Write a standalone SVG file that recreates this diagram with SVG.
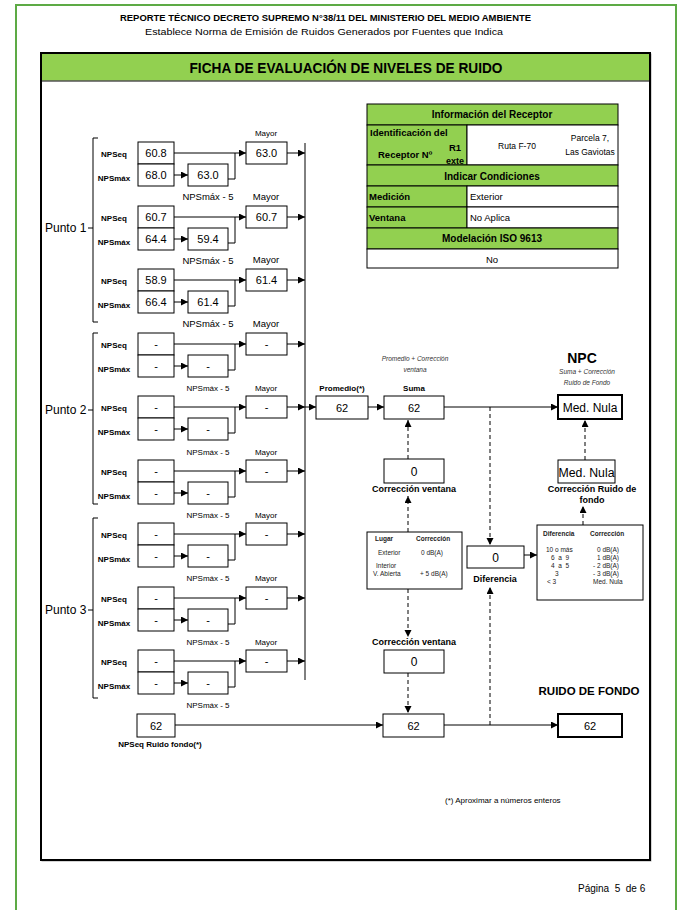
<svg xmlns="http://www.w3.org/2000/svg" width="681" height="910" viewBox="0 0 681 910">
<style>
text{font-family:"Liberation Sans",Arial,sans-serif;fill:#000}
.b{fill:#fff;stroke:#000;stroke-width:1}
.bt{fill:#fff;stroke:#000;stroke-width:2}
.g{fill:#92D050;stroke:#000;stroke-width:1}
.w{fill:#fff;stroke:#000;stroke-width:1}
.ln{fill:none;stroke:#000;stroke-width:1}
.ds{fill:none;stroke:#000;stroke-width:1;stroke-dasharray:4 3}
.v{font-size:11px;text-anchor:middle}
.vl{font-size:12px;text-anchor:middle}
.lb{font-size:8px;font-weight:bold;text-anchor:middle}
.sm{font-size:8px;text-anchor:middle}
.bg{font-size:9.5px;text-anchor:middle}
.pt{font-size:12px}
.th{font-size:10px;font-weight:bold;text-anchor:middle}
.tb{font-size:9.5px;font-weight:bold}
.tr{font-size:9.5px}
.it{font-size:6.5px;font-style:italic;text-anchor:middle;fill:#333}
.cl{font-size:9px;font-weight:bold;text-anchor:middle}
.t7{font-size:6.5px;fill:#222}
.t7b{font-size:6.5px;font-weight:bold;fill:#222}
</style>
<defs>
<marker id="a" markerUnits="userSpaceOnUse" markerWidth="8" markerHeight="8" refX="7" refY="3.5" orient="auto">
<path d="M0,0 L7,3.5 L0,7 z" fill="#000"/>
</marker>
</defs>
<rect width="681" height="910" fill="#fff"/>
<rect x="16" y="5" width="660" height="930" fill="none" stroke="#5DAA45" stroke-width="2"/>
<text x="325.5" y="21" font-size="9.5" font-weight="bold" text-anchor="middle" textLength="411" lengthAdjust="spacingAndGlyphs">REPORTE TÉCNICO DECRETO SUPREMO N°38/11 DEL MINISTERIO DEL MEDIO AMBIENTE</text>
<text x="324" y="35" font-size="9.5" text-anchor="middle" textLength="358" lengthAdjust="spacingAndGlyphs">Establece Norma de Emisión de Ruidos Generados por Fuentes que Indica</text>
<rect x="42" y="54" width="609" height="807" fill="none" stroke="#aaa" stroke-width="1"/>
<rect x="41" y="53" width="609" height="807" fill="#fff" stroke="#000" stroke-width="2"/>
<rect x="42" y="54" width="607" height="27" fill="#92D050"/>
<line x1="42" y1="81" x2="649" y2="81" stroke="#555" stroke-width="1.5"/>
<text x="346" y="73" font-size="15" font-weight="bold" text-anchor="middle" textLength="313" lengthAdjust="spacingAndGlyphs">FICHA DE EVALUACIÓN DE NIVELES DE RUIDO</text>

<g id="receptor">
<rect class="g" x="367" y="104" width="251" height="21"/>
<text class="th" x="492" y="118">Información del Receptor</text>
<rect class="g" x="367" y="125" width="100" height="40"/>
<rect class="w" x="467" y="125" width="151" height="40"/>
<text class="tb" x="370" y="136">Identificación del</text>
<text class="tb" x="378" y="158">Receptor Nº</text>
<text class="tb" x="455" y="151" text-anchor="middle">R1</text>
<text x="455" y="164" font-size="9" font-weight="bold" text-anchor="middle">exte</text>
<text x="517" y="149" font-size="8.5" text-anchor="middle">Ruta F-70</text>
<text x="590" y="141" font-size="8.5" text-anchor="middle">Parcela 7,</text>
<text x="590" y="155" font-size="8.5" text-anchor="middle">Las Gaviotas</text>
<rect class="g" x="367" y="165" width="251" height="21"/>
<text class="th" x="492" y="180">Indicar Condiciones</text>
<rect class="g" x="367" y="186" width="100" height="21"/>
<rect class="w" x="467" y="186" width="151" height="21"/>
<text class="tb" x="369" y="200">Medición</text>
<text class="tr" x="470" y="200">Exterior</text>
<rect class="g" x="367" y="207" width="100" height="21"/>
<rect class="w" x="467" y="207" width="151" height="21"/>
<text class="tb" x="369" y="221">Ventana</text>
<text class="tr" x="470" y="221">No Aplica</text>
<rect class="g" x="367" y="228" width="251" height="21"/>
<text class="th" x="492" y="242">Modelación ISO 9613</text>
<rect class="w" x="367" y="249" width="251" height="19"/>
<text x="492" y="263" font-size="9.5" text-anchor="middle">No</text>
</g>

<g id="punto1">
<text class="pt" x="45" y="232">Punto 1</text>
<path class="ln" d="M98,138 H93 V322 H98 M88,228 H93"/>
</g>
<g id="punto2">
<text class="pt" x="45" y="414">Punto 2</text>
<path class="ln" d="M98,333 H93 V504 H98 M88,410 H93"/>
</g>
<g id="punto3">
<text class="pt" x="45" y="614">Punto 3</text>
<path class="ln" d="M98,518 H93 V698 H98 M88,610 H93"/>
</g>

<g id="g1">
<text class="lb" x="114" y="157">NPSeq</text><text class="lb" x="114" y="181">NPSmáx</text>
<rect class="b" x="138" y="142" width="36" height="22"/><text class="v" x="156" y="157">60.8</text>
<rect class="b" x="138" y="164" width="36" height="22"/><text class="v" x="156" y="179">68.0</text>
<rect class="b" x="188" y="164" width="40" height="22"/><text class="v" x="208" y="179">63.0</text>
<rect class="b" x="246" y="142" width="41" height="22"/><text class="v" x="266.5" y="157">63.0</text>
<text class="sm" x="266" y="136">Mayor</text>
<text class="bg" x="208" y="200">NPSmáx - 5</text>
</g>
<g id="g2">
<text class="lb" x="114" y="221">NPSeq</text><text class="lb" x="114" y="245">NPSmáx</text>
<rect class="b" x="138" y="206" width="36" height="22"/><text class="v" x="156" y="221">60.7</text>
<rect class="b" x="138" y="228" width="36" height="22"/><text class="v" x="156" y="243">64.4</text>
<rect class="b" x="188" y="228" width="40" height="22"/><text class="v" x="208" y="243">59.4</text>
<rect class="b" x="246" y="206" width="41" height="22"/><text class="v" x="266.5" y="221">60.7</text>
<text class="bg" x="266" y="200">Mayor</text>
<text class="bg" x="208" y="264">NPSmáx - 5</text>
</g>
<g id="g3">
<text class="lb" x="114" y="284">NPSeq</text><text class="lb" x="114" y="308">NPSmáx</text>
<rect class="b" x="138" y="269" width="36" height="22"/><text class="v" x="156" y="284">58.9</text>
<rect class="b" x="138" y="291" width="36" height="22"/><text class="v" x="156" y="306">66.4</text>
<rect class="b" x="188" y="291" width="40" height="22"/><text class="v" x="208" y="306">61.4</text>
<rect class="b" x="246" y="269" width="41" height="22"/><text class="v" x="266.5" y="284">61.4</text>
<text class="bg" x="266" y="263">Mayor</text>
<text class="bg" x="208" y="327">NPSmáx - 5</text>
</g>
<g id="g4">
<text class="lb" x="114" y="348">NPSeq</text><text class="lb" x="114" y="372">NPSmáx</text>
<rect class="b" x="138" y="333" width="36" height="22"/><text class="v" x="156" y="348">-</text>
<rect class="b" x="138" y="355" width="36" height="22"/><text class="v" x="156" y="370">-</text>
<rect class="b" x="188" y="355" width="40" height="22"/><text class="v" x="208" y="370">-</text>
<rect class="b" x="246" y="333" width="41" height="22"/><text class="v" x="266.5" y="348">-</text>
<text class="bg" x="266" y="327">Mayor</text>
<text class="sm" x="208" y="391">NPSmáx - 5</text>
</g>
<g id="g5">
<text class="lb" x="114" y="411">NPSeq</text><text class="lb" x="114" y="435">NPSmáx</text>
<rect class="b" x="138" y="396" width="36" height="22"/><text class="v" x="156" y="411">-</text>
<rect class="b" x="138" y="418" width="36" height="22"/><text class="v" x="156" y="433">-</text>
<rect class="b" x="188" y="418" width="40" height="22"/><text class="v" x="208" y="433">-</text>
<rect class="b" x="246" y="396" width="41" height="22"/><text class="v" x="266.5" y="411">-</text>
<text class="sm" x="266" y="391">Mayor</text>
<text class="sm" x="208" y="455">NPSmáx - 5</text>
</g>
<g id="g6">
<text class="lb" x="114" y="475">NPSeq</text><text class="lb" x="114" y="499">NPSmáx</text>
<rect class="b" x="138" y="460" width="36" height="22"/><text class="v" x="156" y="475">-</text>
<rect class="b" x="138" y="482" width="36" height="22"/><text class="v" x="156" y="497">-</text>
<rect class="b" x="188" y="482" width="40" height="22"/><text class="v" x="208" y="497">-</text>
<rect class="b" x="246" y="460" width="41" height="22"/><text class="v" x="266.5" y="475">-</text>
<text class="sm" x="266" y="455">Mayor</text>
<text class="sm" x="208" y="518">NPSmáx - 5</text>
</g>
<g id="g7">
<text class="lb" x="114" y="538">NPSeq</text><text class="lb" x="114" y="562">NPSmáx</text>
<rect class="b" x="138" y="523" width="36" height="22"/><text class="v" x="156" y="538">-</text>
<rect class="b" x="138" y="545" width="36" height="22"/><text class="v" x="156" y="560">-</text>
<rect class="b" x="188" y="545" width="40" height="22"/><text class="v" x="208" y="560">-</text>
<rect class="b" x="246" y="523" width="41" height="22"/><text class="v" x="266.5" y="538">-</text>
<text class="sm" x="266" y="518">Mayor</text>
<text class="sm" x="208" y="581">NPSmáx - 5</text>
</g>
<g id="g8">
<text class="lb" x="114" y="602">NPSeq</text><text class="lb" x="114" y="626">NPSmáx</text>
<rect class="b" x="138" y="587" width="36" height="22"/><text class="v" x="156" y="602">-</text>
<rect class="b" x="138" y="609" width="36" height="22"/><text class="v" x="156" y="624">-</text>
<rect class="b" x="188" y="609" width="40" height="22"/><text class="v" x="208" y="624">-</text>
<rect class="b" x="246" y="587" width="41" height="22"/><text class="v" x="266.5" y="602">-</text>
<text class="sm" x="266" y="581">Mayor</text>
<text class="sm" x="208" y="645">NPSmáx - 5</text>
</g>
<g id="g9">
<text class="lb" x="114" y="665">NPSeq</text><text class="lb" x="114" y="689">NPSmáx</text>
<rect class="b" x="138" y="650" width="36" height="22"/><text class="v" x="156" y="665">-</text>
<rect class="b" x="138" y="672" width="36" height="22"/><text class="v" x="156" y="687">-</text>
<rect class="b" x="188" y="672" width="40" height="22"/><text class="v" x="208" y="687">-</text>
<rect class="b" x="246" y="650" width="41" height="22"/><text class="v" x="266.5" y="665">-</text>
<text class="sm" x="266" y="645">Mayor</text>
<text class="sm" x="208" y="708">NPSmáx - 5</text>
</g>

<g id="promedio">
<rect class="b" x="316" y="396" width="52" height="23"/><text class="v" x="342" y="412">62</text>
<text class="lb" x="342" y="391" font-size="8.5">Promedio(*)</text>
</g>
<g id="suma">
<rect class="b" x="384" y="396" width="60" height="23"/><text class="v" x="414" y="412">62</text>
<text class="lb" x="414" y="391">Suma</text>
<text class="it" x="415" y="361">Promedio + Corrección</text>
<text class="it" x="415" y="372">ventana</text>
</g>
<g id="npc">
<rect class="bt" x="558" y="395" width="64" height="24"/><text class="vl" x="590" y="412">Med. Nula</text>
<text x="582" y="363" font-size="14" font-weight="bold" text-anchor="middle">NPC</text>
<text class="it" x="587" y="374">Suma + Corrección</text>
<text class="it" x="587" y="385">Ruido de Fondo</text>
</g>
<g id="corr-ventana-1">
<rect class="b" x="384" y="459" width="60" height="24"/><text class="vl" x="414" y="476">0</text>
<text class="cl" x="414" y="492">Corrección ventana</text>
</g>
<g id="corr-ruido">
<rect class="b" x="558" y="460" width="57" height="23"/><text class="vl" x="586.5" y="477" textLength="56" lengthAdjust="spacingAndGlyphs">Med. Nula</text>
<text class="cl" x="592" y="492">Corrección Ruido de</text>
<text class="cl" x="592" y="503">fondo</text>
</g>
<g id="tabla-lugar">
<rect class="b" x="367" y="532" width="95" height="57"/>
<text class="t7b" x="375" y="541">Lugar</text>
<text class="t7b" x="416" y="541">Corrección</text>
<text class="t7" x="378" y="555">Exterior</text>
<text class="t7" x="421" y="555">0 dB(A)</text>
<text class="t7" x="376" y="568">Interior</text>
<text class="t7" x="373" y="576">V. Abierta</text>
<text class="t7" x="420" y="576">+ 5 dB(A)</text>
</g>
<g id="diferencia">
<rect class="b" x="467" y="546" width="57" height="22"/><text class="vl" x="495.5" y="562">0</text>
<text class="cl" x="495" y="582">Diferencia</text>
</g>
<g id="tabla-diferencia">
<rect class="b" x="537" y="525" width="106" height="75"/>
<text class="t7b" x="543" y="536">Diferencia</text>
<text class="t7b" x="590" y="536">Corrección</text>
<text class="t7" x="546" y="552">10 o más</text>
<text class="t7" x="551" y="560">6 &#160;a &#160;9</text>
<text class="t7" x="551" y="568">4 &#160;a &#160;5</text>
<text class="t7" x="555" y="576">3</text>
<text class="t7" x="547" y="584">&lt; 3</text>
<text class="t7" x="597" y="552">0 dB(A)</text>
<text class="t7" x="597" y="560">1 dB(A)</text>
<text class="t7" x="593" y="568">- 2 dB(A)</text>
<text class="t7" x="593" y="576">- 3 dB(A)</text>
<text class="t7" x="593" y="584">Med. Nula</text>
</g>
<g id="corr-ventana-2">
<text class="cl" x="414" y="645">Corrección ventana</text>
<rect class="b" x="384" y="650" width="60" height="23"/><text class="vl" x="414" y="666">0</text>
</g>
<g id="npseq-ruido">
<rect class="b" x="137" y="714" width="38" height="23"/><text class="v" x="156" y="730">62</text>
<text class="lb" x="160" y="747">NPSeq Ruido fondo(*)</text>
</g>
<g id="suma-ruido">
<rect class="b" x="383" y="714" width="61" height="23"/><text class="v" x="413.5" y="730">62</text>
</g>
<g id="ruido-fondo">
<text x="589" y="695" font-size="11.5" font-weight="bold" text-anchor="middle">RUIDO DE FONDO</text>
<rect class="bt" x="558" y="714" width="64" height="23"/><text class="v" x="590" y="730">62</text>
</g>

<g id="connectors">
<path class="ln" d="M305,143 V680"/>
<path class="ln" d="M174,153 H246" marker-end="url(#a)"/><path class="ln" d="M174,175 H188" marker-end="url(#a)"/><path class="ln" d="M228,179 H235 V153"/><path class="ln" d="M287,153 H305" marker-end="url(#a)"/>
<path class="ln" d="M174,217 H246" marker-end="url(#a)"/><path class="ln" d="M174,239 H188" marker-end="url(#a)"/><path class="ln" d="M228,243 H235 V217"/><path class="ln" d="M287,217 H305" marker-end="url(#a)"/>
<path class="ln" d="M174,280 H246" marker-end="url(#a)"/><path class="ln" d="M174,302 H188" marker-end="url(#a)"/><path class="ln" d="M228,306 H235 V280"/><path class="ln" d="M287,280 H305" marker-end="url(#a)"/>
<path class="ln" d="M174,344 H246" marker-end="url(#a)"/><path class="ln" d="M174,366 H188" marker-end="url(#a)"/><path class="ln" d="M228,370 H235 V344"/><path class="ln" d="M287,344 H305" marker-end="url(#a)"/>
<path class="ln" d="M174,407 H246" marker-end="url(#a)"/><path class="ln" d="M174,429 H188" marker-end="url(#a)"/><path class="ln" d="M228,433 H235 V407"/><path class="ln" d="M287,407 H305" marker-end="url(#a)"/>
<path class="ln" d="M174,471 H246" marker-end="url(#a)"/><path class="ln" d="M174,493 H188" marker-end="url(#a)"/><path class="ln" d="M228,497 H235 V471"/><path class="ln" d="M287,471 H305" marker-end="url(#a)"/>
<path class="ln" d="M174,534 H246" marker-end="url(#a)"/><path class="ln" d="M174,556 H188" marker-end="url(#a)"/><path class="ln" d="M228,560 H235 V534"/><path class="ln" d="M287,534 H305" marker-end="url(#a)"/>
<path class="ln" d="M174,598 H246" marker-end="url(#a)"/><path class="ln" d="M174,620 H188" marker-end="url(#a)"/><path class="ln" d="M228,624 H235 V598"/><path class="ln" d="M287,598 H305" marker-end="url(#a)"/>
<path class="ln" d="M174,661 H246" marker-end="url(#a)"/><path class="ln" d="M174,683 H188" marker-end="url(#a)"/><path class="ln" d="M228,687 H235 V661"/><path class="ln" d="M287,661 H305" marker-end="url(#a)"/>
<path class="ln" d="M305,407 H316" marker-end="url(#a)"/>
<path class="ln" d="M368,407 H384" marker-end="url(#a)"/>
<path class="ln" d="M444,407 H558" marker-end="url(#a)"/>
<path class="ds" d="M408,459 V420" marker-end="url(#a)"/>
<path class="ds" d="M408,532 V496" marker-end="url(#a)"/>
<path class="ds" d="M408,589 V637" marker-end="url(#a)"/>
<path class="ds" d="M408,673 V713" marker-end="url(#a)"/>
<path class="ds" d="M490,407 V545" marker-end="url(#a)"/>
<path class="ds" d="M490,725 V587" marker-end="url(#a)"/>
<path class="ln" d="M524,555 H537" marker-end="url(#a)"/>
<path class="ds" d="M583,525 V506" marker-end="url(#a)"/>
<path class="ds" d="M585,460 V420" marker-end="url(#a)"/>
<path class="ln" d="M175,725 H383" marker-end="url(#a)"/>
<path class="ln" d="M444,725 H558" marker-end="url(#a)"/>
</g>

<text x="445" y="803" font-size="8" fill="#222">(*) Aproximar a números enteros</text>
<text x="578" y="892" font-size="10">Página &#160;5 &#160;de 6</text>
</svg>
